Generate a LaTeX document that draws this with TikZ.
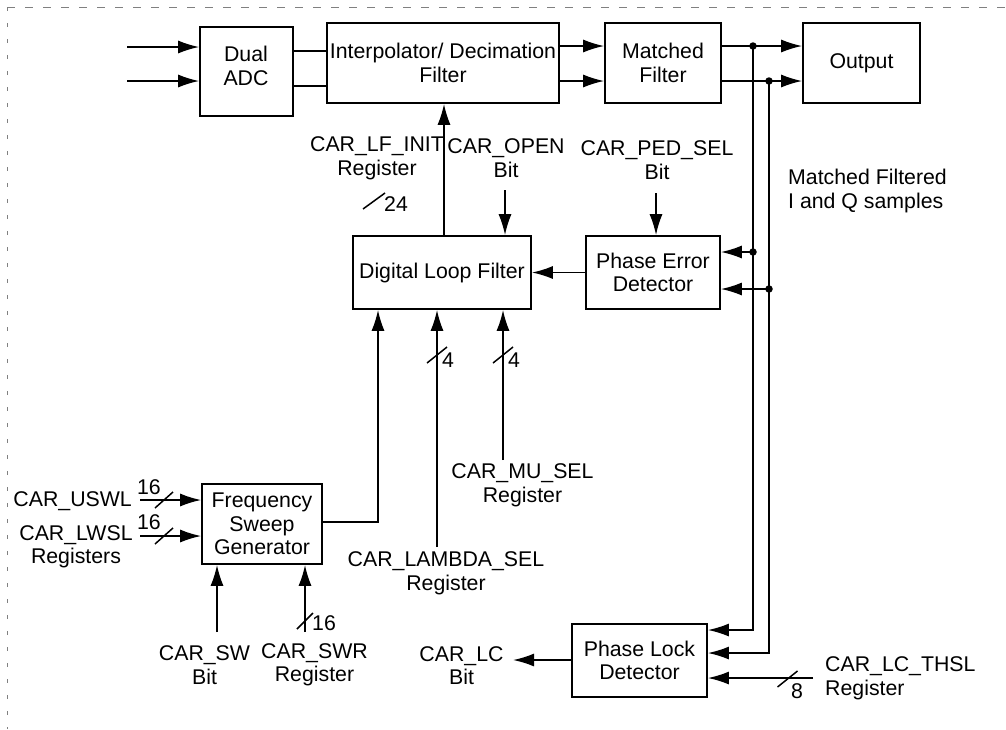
\documentclass[tikz,border=0pt]{standalone}
\usepackage{fontspec}
\setmainfont{Liberation Sans}
\usetikzlibrary{arrows.meta,calc}
\begin{document}
\begin{tikzpicture}[x=1pt,y=-1pt,
 every node/.style={font=\fontsize{21.3}{23.5}\selectfont},
 blk/.style={draw,line width=1.7pt,inner sep=0pt,align=center},
 wire/.style={line width=1.7pt},
 arr/.style={wire,-{Latex[length=21pt,width=13pt]}},
 lbl/.style={inner sep=0pt,align=center},
 bus/.style={line width=1.5pt},
 dot/.style={circle,fill,inner sep=0pt,minimum size=7.5pt},
 border/.style={gray,line width=1pt}]
\useasboundingbox (0,0) rectangle (1006,729);
% border
\draw[border,dash pattern=on 8pt off 10pt] (7,7) -- (1006,7);
\draw[border,dash pattern=on 4pt off 12pt] (7,7) -- (7,729);
% blocks
\node[blk,minimum width=93pt,minimum height=89pt] (adc) at (246.5,71.5) {};
\node[lbl] (adct) at (246,66) {Dual\\ADC};
\node[blk,minimum width=232pt,minimum height=80pt] (interp) at (443,63) {Interpolator/ Decimation\\Filter};
\node[blk,minimum width=116pt,minimum height=80pt] (mf) at (663,63) {Matched\\Filter};
\node[blk,minimum width=117pt,minimum height=80pt] (out) at (861.5,63) {Output};
\node[blk,minimum width=178pt,minimum height=73pt] (dlf) at (442,272.5) {Digital Loop Filter};
\node[blk,minimum width=134pt,minimum height=73pt] (ped) at (653,272.5) {Phase Error\\Detector};
\node[blk,minimum width=120pt,minimum height=80pt] (fsg) at (262,524) {Frequency\\Sweep\\Generator};
\node[blk,minimum width=135pt,minimum height=73pt] (pld) at (639.5,660.5) {Phase Lock\\Detector};
% top chain
\coordinate (i1) at (127,47); \coordinate (i2) at (127,81);
\draw[arr] (i1) -- (i1 -| adc.west);
\draw[arr] (i2) -- (i2 -| adc.west);
\coordinate (a1) at (0,51); \coordinate (a2) at (0,86);
\draw[wire] (a1 -| adc.east) -- (a1 -| interp.west);
\draw[wire] (a2 -| adc.east) -- (a2 -| interp.west);
\coordinate (b1) at (0,46); \coordinate (b2) at (0,81);
\draw[arr] (b1 -| interp.east) -- (b1 -| mf.west);
\draw[arr] (b2 -| interp.east) -- (b2 -| mf.west);
\draw[arr] (b1 -| mf.east) -- (b1 -| out.west);
\draw[arr] (b2 -| mf.east) -- (b2 -| out.west);
% taps
\coordinate (j1) at (753,46); \coordinate (j2) at (769,81);
\coordinate (j3) at (753,252); \coordinate (j4) at (769,289);
\coordinate (k1) at (753,630); \coordinate (k2) at (769,653);
\draw[arr] (j1) -- (k1) -- (k1 -| pld.east);
\draw[arr] (j2) -- (k2) -- (k2 -| pld.east);
\draw[arr] (j3) -- (j3 -| ped.east);
\draw[arr] (j4) -- (j4 -| ped.east);
\node[dot] (d1) at (j1) {};
\node[dot] (d2) at (j2) {};
\node[dot] (d3) at (j3) {};
\node[dot] (d4) at (j4) {};
\node[lbl,anchor=west,align=left] (mfq) at (788,191) {Matched Filtered\\I and Q samples};
% loop filter area
\draw[arr] (ped.west) -- (dlf.east);
\coordinate (up) at (444,0);
\draw[arr] (up |- dlf.north) -- (up |- interp.south);
\coordinate (op) at (505,190);
\draw[arr] (op) -- (op |- dlf.north);
\coordinate (ps) at (656,193);
\draw[arr] (ps) -- (ps |- ped.north);
\node[lbl] (lfinit) at (377,158.5) {CAR\_LF\_INIT\\Register};
\node[lbl] (open) at (506,158) {CAR\_OPEN\\Bit};
\node[lbl] (pedsel) at (657,160) {CAR\_PED\_SEL\\Bit};
\coordinate (s24) at (374,201);
\draw[bus] ($(s24)+(-11,8)$) -- ($(s24)+(11,-8)$);
\node[lbl] (n24) at (396,204) {24};
% fsg out
\coordinate (fo) at (378,522);
\draw[arr] (fo -| fsg.east) -- (fo) -- (fo |- dlf.south);
% lambda, mu
\coordinate (la) at (437,547);
\draw[arr] (la) -- (la |- dlf.south);
\coordinate (mu) at (503,460);
\draw[arr] (mu) -- (mu |- dlf.south);
\coordinate (sla) at (437,355); \coordinate (smu) at (503,355);
\draw[bus] ($(sla)+(-10,8)$) -- ($(sla)+(10,-8)$);
\draw[bus] ($(smu)+(-10,8)$) -- ($(smu)+(10,-8)$);
\node[lbl] (n4a) at (448,360) {4};
\node[lbl] (n4b) at (514,360) {4};
\node[lbl] (musel) at (522.5,485.5) {CAR\_MU\_SEL\\Register};
\node[lbl] (lamsel) at (446,573.5) {CAR\_LAMBDA\_SEL\\Register};
% fsg inputs
\coordinate (us) at (140,500); \coordinate (ls) at (140,536);
\draw[arr] (us) -- (us -| fsg.west);
\draw[arr] (ls) -- (ls -| fsg.west);
\coordinate (sus) at (164,500); \coordinate (sls) at (164,536);
\draw[bus] ($(sus)+(-9,8)$) -- ($(sus)+(9,-8)$);
\draw[bus] ($(sls)+(-9,8)$) -- ($(sls)+(9,-8)$);
\node[lbl] (n16a) at (149,487) {16};
\node[lbl] (n16b) at (149,522) {16};
\node[lbl,anchor=east] (uswl) at (132,501) {CAR\_USWL};
\node[lbl] (lwsl) at (76,547) {CAR\_LWSL\\Registers};
\coordinate (sw) at (217,632); \coordinate (sr) at (305,632);
\draw[arr] (sw) -- (sw |- fsg.south);
\draw[arr] (sr) -- (sr |- fsg.south);
\coordinate (ssr) at (305,621);
\draw[bus] ($(ssr)+(-8,8)$) -- ($(ssr)+(8,-8)$);
\node[lbl] (n16c) at (324,623) {16};
\node[lbl] (swl) at (204.5,665) {CAR\_SW\\Bit};
\node[lbl] (swrl) at (314.5,665) {CAR\_SWR\\Register};
% phase lock detector
\coordinate (th) at (813,678);
\draw[arr] (th) -- (th -| pld.east);
\coordinate (sth) at (787.5,679);
\draw[bus] ($(sth)+(-10,8)$) -- ($(sth)+(10,-8)$);
\node[lbl] (n8) at (797,691) {8};
\node[lbl,anchor=west,align=left] (thsl) at (825,678.5) {CAR\_LC\_THSL\\Register};
\coordinate (lc) at (513,660);
\draw[arr] (lc -| pld.west) -- (lc);
\node[lbl] (lcl) at (461.5,665.5) {CAR\_LC\\Bit};
\end{tikzpicture}
\end{document}
